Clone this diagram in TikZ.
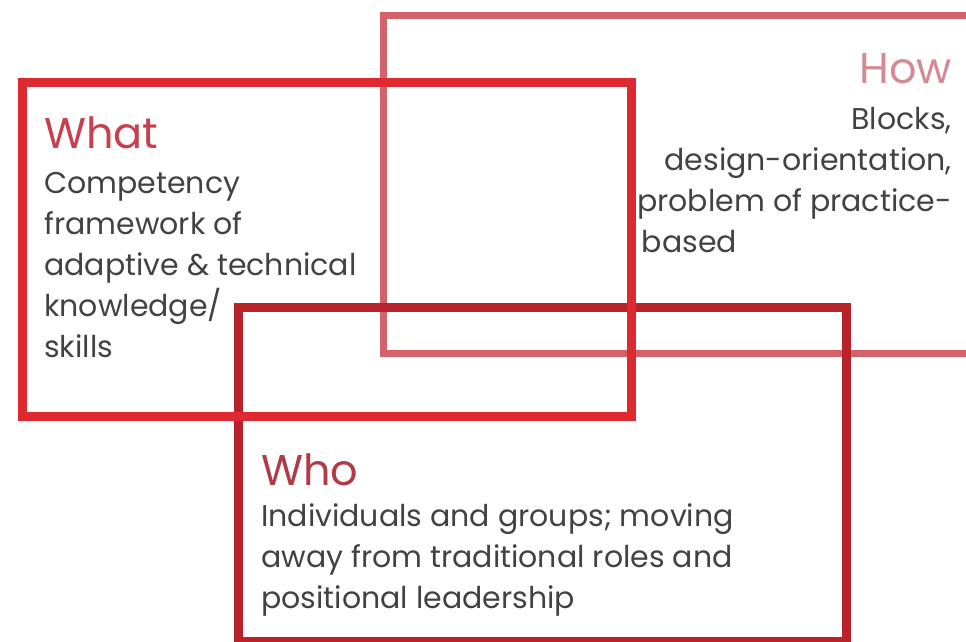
\documentclass[tikz,border=0pt]{standalone}
\usepackage{fontspec}
\setmainfont{Poppins}

\definecolor{whatred}{HTML}{DC2A30}
\definecolor{howred}{HTML}{D3626A}
\definecolor{whored}{HTML}{B8232B}
\definecolor{whathead}{HTML}{C8404E}
\definecolor{howhead}{HTML}{D48A92}
\definecolor{whohead}{HTML}{B03A46}
\definecolor{bodygray}{HTML}{424242}

\begin{document}
\begin{tikzpicture}[x=1pt,y=-1pt]
    \tikzset{
        frame/.style={draw, line width=#1, inner sep=0pt, anchor=north west},
        heading/.style={anchor=base west, inner sep=0pt, font=\fontsize{43}{43}\selectfont},
        blurb/.style={anchor=base west, inner sep=0pt, align=left, text=bodygray,
            font=\fontsize{30}{41}\selectfont}
    }
    \useasboundingbox (0,0) rectangle (966,641);

    % the three frames, back to front
    \draw node[frame=7pt, draw=howred, minimum width=610, minimum height=338] (how) at (380,12) {};
    \draw node[frame=9pt, draw=whored, minimum width=608, minimum height=334] (who) at (234,303) {};
    \draw node[frame=9pt, draw=whatred, minimum width=609, minimum height=334] (what) at (18,78) {};

    % what (blurb anchored on its last line)
    \node[heading, text=whathead] (whattitle) at (44,148) {What};
    \node[blurb] (whattext) at (44,357) {Competency\\framework of\\adaptive \& technical\\knowledge/\\skills};

    % how
    \node[heading, anchor=base east, text=howhead] (howtitle) at (952,83) {How};
    \node[blurb, anchor=base east, align=right] (howtext) at (952,252)
        {Blocks,\\design-orientation,\\problem of practice-\\\makebox[310pt][l]{based}};

    % who
    \node[heading, text=whohead] (whotitle) at (261,485) {Who};
    \node[blurb] (whotext) at (261,608)
        {Individuals and groups; moving\\away from traditional roles and\\positional leadership};
\end{tikzpicture}
\end{document}
